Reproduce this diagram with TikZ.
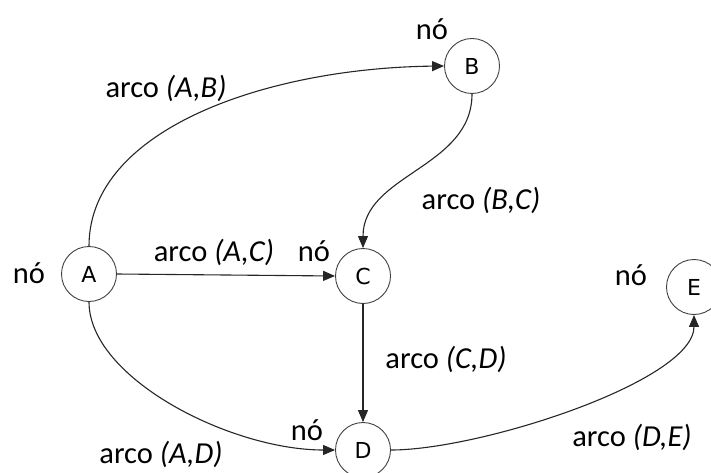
\documentclass[tikz,border=0pt]{standalone}
\usepackage{fontspec}
\setmainfont{Carlito}
\newfontfamily\nodefont{DejaVu Sans}
\usetikzlibrary{arrows.meta}
\newcommand{\vtx}[1]{{\nodefont\fontsize{22}{24}\selectfont #1}}
\begin{document}
\begin{tikzpicture}[x=1pt,y=-1pt,
  vertex/.style={circle,draw=black!75,line width=0.9pt,minimum size=55pt,inner sep=0pt},
  lbl/.style={font=\fontsize{30.5}{33}\selectfont,inner sep=0pt,anchor=center},
  edge/.style={line width=1.1pt,draw=black!85,-{Triangle[length=12pt,width=10pt]}}]
\useasboundingbox (0,0) rectangle (711,473);
\node[vertex] (A) at (89,274) {\vtx{A}};
\node[vertex] (B) at (472,66) {\vtx{B}};
\node[vertex] (C) at (363,276) {\vtx{C}};
\node[vertex] (D) at (363,450) {\vtx{D}};
\node[vertex] (E) at (694,287) {\vtx{E}};
\node[lbl] (nA) at (29,273) {nó};
\node[lbl] (nB) at (432,29) {nó};
\node[lbl] (nC) at (314,251) {nó};
\node[lbl] (nD) at (307,430) {nó};
\node[lbl] (nE) at (631,275) {nó};
\node[lbl] (lAB) at (166,88) {arco \textit{(A,B)}};
\node[lbl] (lBC) at (481,200) {arco \textit{(B,C)}};
\node[lbl] (lAC) at (214,252) {arco \textit{(A,C)}};
\node[lbl] (lCD) at (446,359) {arco \textit{(C,D)}};
\node[lbl] (lAD) at (161,454) {arco \textit{(A,D)}};
\node[lbl] (lDE) at (632,437) {arco \textit{(D,E)}};
\draw[edge] (A.north) .. controls +(0,-118) and +(-175,2) .. (B.west);
\draw[edge] (B.south) to[out=-90,in=90] (C.north);
\draw[edge] (A.east) -- (C.west);
\draw[edge] (C.south) -- (D.north);
\draw[edge] (A.south) .. controls +(0,76) and +(-105,0) .. (D.west);
\draw[edge] (D.east) .. controls +(90,0) and +(0,66) .. (E.south);
\end{tikzpicture}
\end{document}
